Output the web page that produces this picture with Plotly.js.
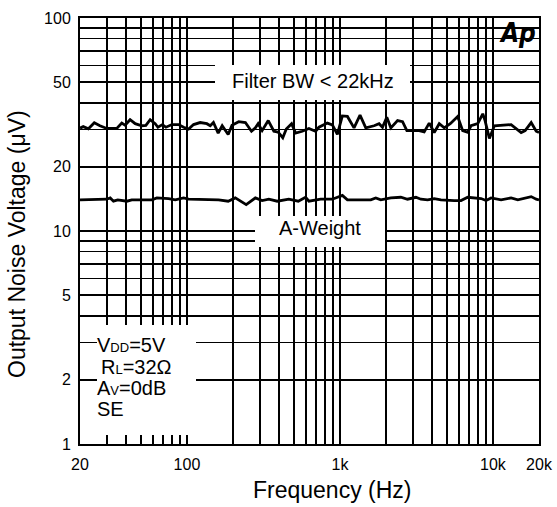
<!DOCTYPE html>
<html>
<head>
<meta charset="utf-8">
<script src="https://cdn.plot.ly/plotly-3.0.1.min.js"></script>
<style>html,body{margin:0;padding:0;background:#fff;}#chart{width:557px;height:507px;}</style>
</head>
<body>
<div id="chart"></div>
<script>
// Filter BW < 22kHz series
const filterFreq = [20,21.0,22.7,24.8,27.0,29.9,34.8,37.5,39.4,42.5,45.9,50.7,53.9,57.5,62.0,64.6,69.2,72.9,79.8,88.2,95.1,102.5,110.5,122,135,142,149,160,170,186,197,218,241,264,280,292,310,340,370,395,423,446,483,513,567,627,693,729,827,892,962,1037,1119,1236,1353,1475,1671,1802,1897,2024,2151,2380,2566,2738,2984,3296,3554,3832,4133,4457,4806,5261,5882,6342,6840,7190,7955,8580,8882,9476,10218,11883,13146,15288,16240,17780,19174,20000];
const filterNoise = [30.4,30.9,30.2,32.2,31.2,30.3,30.3,32.1,31.4,33.3,31.9,31.2,31.3,33.3,31.9,30.7,31.6,30.7,31.6,31.6,30.7,30.1,31.6,32.3,31.9,31.2,32.3,28.8,31.2,28.4,31.4,32.6,32.3,29.4,30.5,31.9,29.6,33.0,29.4,29.1,27.4,30.1,31.9,28.8,29.4,30.3,29.4,30.7,32.1,31.5,28.4,34.7,34.5,30.5,35.0,30.5,31.2,31.9,30.7,34.2,30.5,33.0,32.6,29.6,29.6,29.6,29.2,32.1,29.0,31.9,30.5,31.9,34.5,29.6,29.1,31.2,31.9,35.5,33.0,27.2,31.2,31.4,31.6,29.0,29.6,32.3,29.4,29.0];
// A-Weight series
const aWeightFreq = [20,29.9,31.5,33.1,35.3,40.5,43.6,59.0,63.6,75.8,83.9,95.1,102.5,161,186,207,244,280,310,343,389,463,534,596,627,676,748,892,962,1037,1119,1236,1368,1590,1715,1849,2151,2500,2766,3136,3381,3741,4133,4572,5590,6183,6840,7558,8362,9016,9724,11304,13146,14546,16069,17780,19174,20000];
const aWeightNoise = [14.0,14.1,14.3,13.8,14.0,13.8,14.0,14.0,14.3,14.2,14.0,14.3,14.1,14.0,13.8,14.3,13.3,14.3,13.9,14.1,13.8,14.1,13.8,14.4,13.8,13.9,14.1,14.1,14.4,14.7,14.0,14.0,13.9,14.0,14.3,14.0,14.3,14.4,14.1,14.4,14.1,14.0,14.2,14.0,13.9,13.9,14.4,14.3,14.2,13.9,14.3,14.0,14.3,14.0,14.3,14.5,14.1,14.0];

// Axis ticks / grid
const xTickVals = [20,30,40,50,60,70,80,90,100,200,300,400,500,600,700,800,900,1000,2000,3000,4000,5000,6000,7000,8000,9000,10000,20000];
const xTickText = ['20','','','','','','','','100','','','','','','','','','1k','','','','','','','','','10k','20k'];
const yTickVals = [1,2,3,4,5,6,7,8,9,10,20,30,40,50,60,70,80,90,100];
const yTickText = ['1','2','','','5','','','','','10','20','','','50','','','','','100'];

const FONT = 'Liberation Sans, Arial, Helvetica, sans-serif';

const traces = [
  {x: filterFreq, y: filterNoise, type: 'scatter', mode: 'lines', line: {color: '#000', width: 2.8}, hoverinfo: 'skip'},
  {x: aWeightFreq, y: aWeightNoise, type: 'scatter', mode: 'lines', line: {color: '#000', width: 2.8}, hoverinfo: 'skip'}
];

const px = v => (v - 80) / 459;
const py = v => (444 - v) / 426;

const whiteBox = (x0, x1, y0, y1) => ({type: 'rect', xref: 'paper', yref: 'paper', x0: px(x0), x1: px(x1), y0: py(y1), y1: py(y0), fillcolor: '#fff', line: {width: 0}, layer: 'above'});

const small = s => '<span style="font-size:13px">' + s + '</span>';

const layout = {
  width: 557, height: 507,
  margin: {l: 80, r: 18, t: 18, b: 63},
  paper_bgcolor: '#fff', plot_bgcolor: '#fff',
  showlegend: false,
  font: {family: FONT, color: '#000', size: 16},
  xaxis: {
    type: 'log', range: [Math.log10(20), Math.log10(20000)],
    tickmode: 'array', tickvals: xTickVals, ticktext: xTickText,
    showgrid: true, gridcolor: '#000', gridwidth: 1.5,
    showline: true, linecolor: '#000', linewidth: 2, mirror: true,
    ticks: '', zeroline: false, ticklabelstandoff: 5,
    tickfont: {family: FONT, size: 16, color: '#000'}
  },
  yaxis: {
    type: 'log', range: [0, 2],
    tickmode: 'array', tickvals: yTickVals, ticktext: yTickText,
    showgrid: true, gridcolor: '#000', gridwidth: 1.5,
    showline: true, linecolor: '#000', linewidth: 2, mirror: true,
    ticks: '', zeroline: false, ticklabelstandoff: 4,
    tickfont: {family: FONT, size: 16, color: '#000'}
  },
  shapes: [
    whiteBox(215, 410, 65, 100),
    whiteBox(255, 385, 216, 247),
    whiteBox(97, 196, 325, 435)
  ],
  annotations: [
    {xref: 'paper', yref: 'paper', x: px(312.5), y: py(81), text: 'Filter BW &lt; 22kHz', showarrow: false, xanchor: 'center', yanchor: 'middle', font: {family: FONT, size: 20, color: '#000'}},
    {xref: 'paper', yref: 'paper', x: px(320), y: py(228), text: 'A-Weight', showarrow: false, xanchor: 'center', yanchor: 'middle', font: {family: FONT, size: 20, color: '#000'}},
    {xref: 'paper', yref: 'paper', x: px(95), y: py(345), text: 'V' + small('DD') + '=5V', showarrow: false, xanchor: 'left', yanchor: 'middle', font: {family: FONT, size: 20, color: '#000'}},
    {xref: 'paper', yref: 'paper', x: px(99), y: py(367), text: 'R' + small('L') + '=32Ω', showarrow: false, xanchor: 'left', yanchor: 'middle', font: {family: FONT, size: 20, color: '#000'}},
    {xref: 'paper', yref: 'paper', x: px(95), y: py(388), text: 'A' + small('V') + '=0dB', showarrow: false, xanchor: 'left', yanchor: 'middle', font: {family: FONT, size: 20, color: '#000'}},
    {xref: 'paper', yref: 'paper', x: px(95), y: py(409), text: 'SE', showarrow: false, xanchor: 'left', yanchor: 'middle', font: {family: FONT, size: 20, color: '#000'}},
    {xref: 'paper', yref: 'paper', x: px(538), y: py(33), text: '<b><i>Ap</i></b>', showarrow: false, xanchor: 'right', yanchor: 'middle', font: {family: 'DejaVu Sans Condensed, Liberation Sans Narrow, Liberation Sans', size: 26, color: '#000'}},
    {xref: 'paper', yref: 'paper', x: px(332), y: py(490), text: 'Frequency (Hz)', showarrow: false, xanchor: 'center', yanchor: 'middle', font: {family: FONT, size: 23, color: '#000'}},
    {xref: 'paper', yref: 'paper', x: px(17), y: py(244), text: 'Output Noise Voltage (μV)', textangle: -90, showarrow: false, xanchor: 'center', yanchor: 'middle', font: {family: FONT, size: 23, color: '#000'}}
  ]
};

Plotly.newPlot('chart', traces, layout, {displayModeBar: false, staticPlot: true});
</script>
</body>
</html>
